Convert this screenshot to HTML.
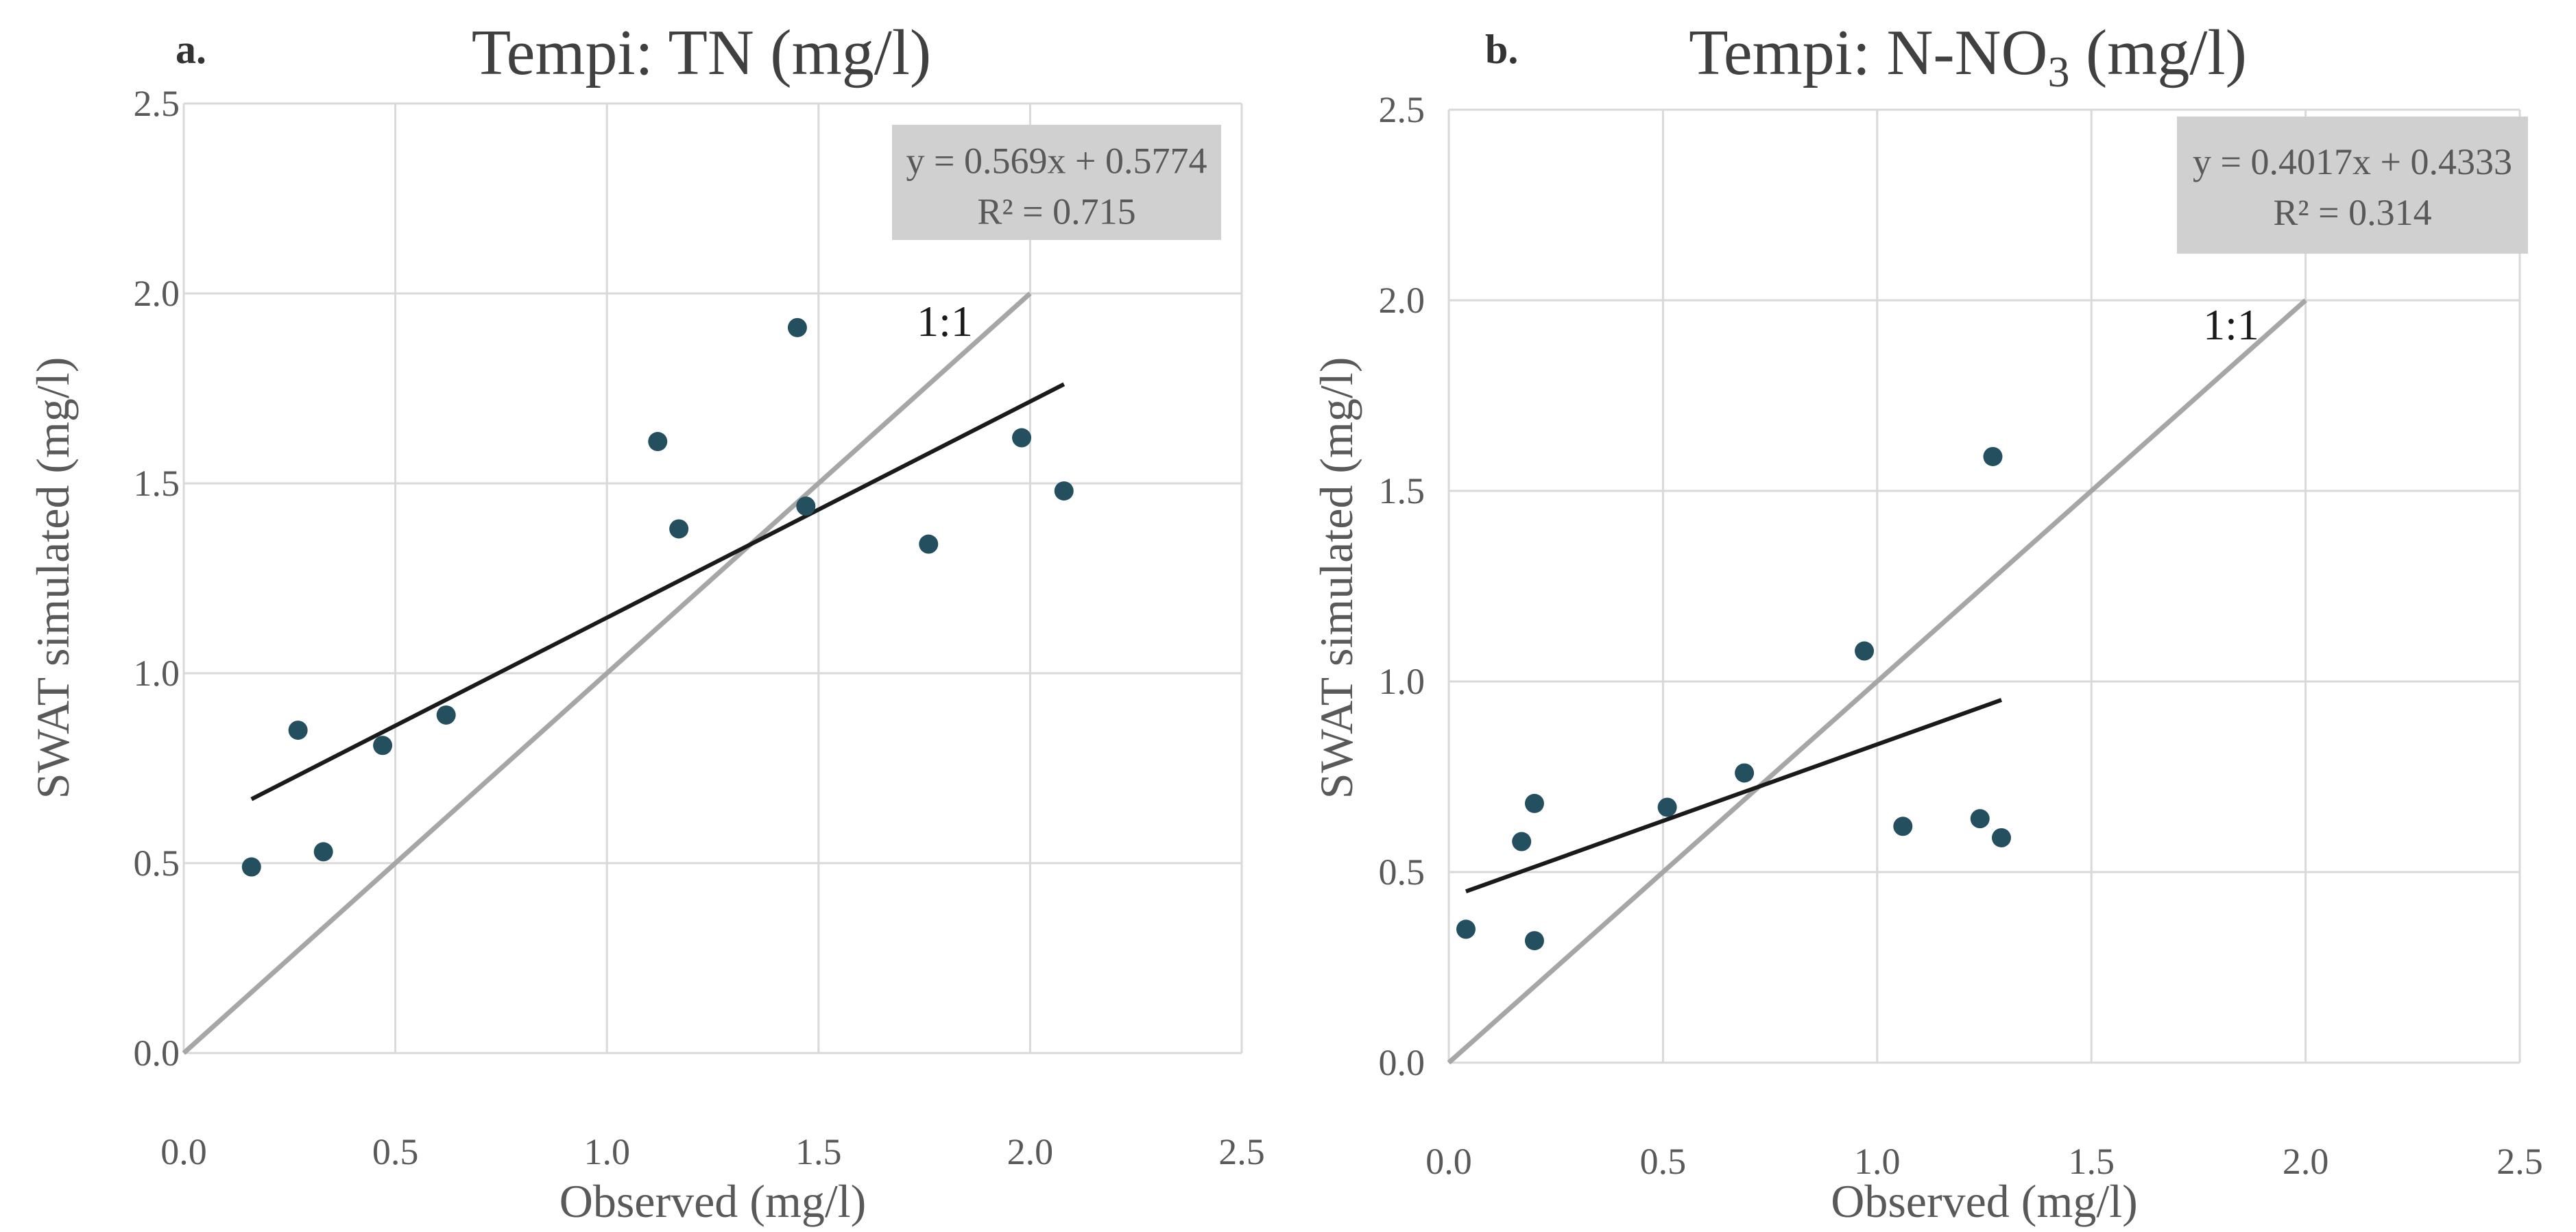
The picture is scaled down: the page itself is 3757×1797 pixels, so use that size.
<!DOCTYPE html>
<html><head><meta charset="utf-8"><style>
html,body{margin:0;padding:0;background:#fff;}
svg{display:block;font-family:"Liberation Serif",serif;}
</style></head><body>
<svg id="fig" width="3757" height="1797" viewBox="0 0 3757 1797" xmlns="http://www.w3.org/2000/svg">
<rect x="0" y="0" width="3757" height="1797" fill="#fff"/>
<g id="pa"></g>
<g id="pb"></g>
</svg>
<script>
const ticks = [0, 0.5, 1.0, 1.5, 2.0, 2.5];
const tickLabels = ["0.0", "0.5", "1.0", "1.5", "2.0", "2.5"];
const aObs = [0.16, 0.27, 0.33, 0.47, 0.62, 1.12, 1.17, 1.45, 1.47, 1.76, 1.98, 2.08];
const aSim = [0.49, 0.85, 0.53, 0.81, 0.89, 1.61, 1.38, 1.91, 1.44, 1.34, 1.62, 1.48];
const aSlope = [0.569];
const aIntercept = [0.5774];
const bObs = [0.04, 0.17, 0.20, 0.20, 0.51, 0.69, 0.97, 1.06, 1.24, 1.27, 1.29];
const bSim = [0.35, 0.58, 0.68, 0.32, 0.67, 0.76, 1.08, 0.62, 0.64, 1.59, 0.59];
const bSlope = [0.4017];
const bIntercept = [0.4333];

const NS = "http://www.w3.org/2000/svg";
function mk(parent, tag, attrs, text) {
  const e = document.createElementNS(NS, tag);
  for (const k in attrs) e.setAttribute(k, attrs[k]);
  if (text !== undefined) e.textContent = text;
  parent.appendChild(e);
  return e;
}

function panel(g, cfg) {
  const L = cfg.left, R = cfg.right, T = cfg.top, B = cfg.bottom;
  const sx = v => L + (R - L) * v / 2.5;
  const sy = v => B - (B - T) * v / 2.5;
  ticks.forEach((t, i) => {
    const gx = mk(g, "line", {x1: sx(t), x2: sx(t), y1: T, y2: B, stroke: "#d9d9d9", "stroke-width": 3});
    
    
    const gy = mk(g, "line", {x1: L, x2: R, y1: sy(t), y2: sy(t), stroke: "#d9d9d9", "stroke-width": 3});
    
    
    const xl = mk(g, "text", {x: sx(t), y: B + 162, "text-anchor": "middle", "font-size": 54, fill: "#595959"}, tickLabels[i]);
    
    
    const yl = mk(g, "text", {x: cfg.yTickRight, y: sy(t) + 18, "text-anchor": "end", "font-size": 54, fill: "#595959"}, tickLabels[i]);
    
    
  });
  const one = mk(g, "line", {x1: sx(0), y1: sy(0), x2: sx(2), y2: sy(2), stroke: "#a6a6a6", "stroke-width": 7});
  
  
  const oneL = mk(g, "text", {x: cfg.oneX, y: cfg.oneY, "text-anchor": "middle", "font-size": 64, fill: "#1a1a1a"}, "1:1");
  
  
  const x0 = Math.min(...cfg.obs), x1 = Math.max(...cfg.obs);
  const tr = mk(g, "line", {x1: sx(x0), y1: sy(cfg.slope * x0 + cfg.icpt), x2: sx(x1), y2: sy(cfg.slope * x1 + cfg.icpt), stroke: "#1a1a1a", "stroke-width": 6});
  
  
  cfg.obs.forEach((o, i) => {
    const c = mk(g, "circle", {cx: sx(o), cy: sy(cfg.sim[i]), r: 14, fill: "#234f5e"});
    
    
  });
  const bx = mk(g, "rect", {x: cfg.box[0], y: cfg.box[1], width: cfg.box[2], height: cfg.box[3], fill: "#d0d0d0"});
  
  
  const cx = cfg.box[0] + cfg.box[2] / 2;
  const e1 = mk(g, "text", {x: cx, y: cfg.box[1] + cfg.box[3] * 0.42, "text-anchor": "middle", "font-size": 54, fill: "#595959"}, cfg.eq);
  
  
  const e2 = mk(g, "text", {x: cx, y: cfg.box[1] + cfg.box[3] * 0.42 + 74, "text-anchor": "middle", "font-size": 54, fill: "#595959"}, cfg.r2);
  
  
  const xt = mk(g, "text", {x: (L + R) / 2, y: 1775, "text-anchor": "middle", "font-size": 68, fill: "#595959"}, "Observed (mg/l)");
  
  
  const yt = mk(g, "text", {x: 0, y: 0, "text-anchor": "middle", "font-size": 68, fill: "#595959", transform: "translate(" + cfg.yTitleX + "," + 843 + ") rotate(-90)"}, "SWAT simulated (mg/l)");
  
  
  const pl = mk(g, "text", {x: cfg.letterX, y: 92, "font-size": 60, "font-weight": "bold", fill: "#333"}, cfg.letter);
  
  
  const tt = mk(g, "text", {x: cfg.titleX, y: 108, "text-anchor": "middle", "font-size": 94, fill: "#404040"});
  
  
  cfg.title(tt);
}

panel(document.getElementById("pa"), {
  left: 268, right: 1811, top: 151, bottom: 1536, yTickRight: 262, yTitleX: 100,
  obs: aObs, sim: aSim, slope: aSlope[0], icpt: aIntercept[0],
  box: [1301, 182, 480, 168], eq: "y = 0.569x + 0.5774", r2: "R² = 0.715",
  oneX: 1378, oneY: 490, letter: "a.", letterX: 256, titleX: 1023,
  title: t => { t.textContent = "Tempi: TN (mg/l)"; }
});
panel(document.getElementById("pb"), {
  left: 2113, right: 3675, top: 160, bottom: 1550, yTickRight: 2078, yTitleX: 1972,
  obs: bObs, sim: bSim, slope: bSlope[0], icpt: bIntercept[0],
  box: [3175, 170, 512, 200], eq: "y = 0.4017x + 0.4333", r2: "R² = 0.314",
  oneX: 3254, oneY: 495, letter: "b.", letterX: 2166, titleX: 2870,
  title: t => {
    t.appendChild(document.createTextNode("Tempi: N-NO"));
    const s = document.createElementNS(NS, "tspan");
    s.setAttribute("font-size", "64"); s.setAttribute("dy", "18"); s.textContent = "3";
    t.appendChild(s);
    const s2 = document.createElementNS(NS, "tspan");
    s2.setAttribute("dy", "-18"); s2.textContent = " (mg/l)";
    t.appendChild(s2);
  }
});
</script>
</body></html>
